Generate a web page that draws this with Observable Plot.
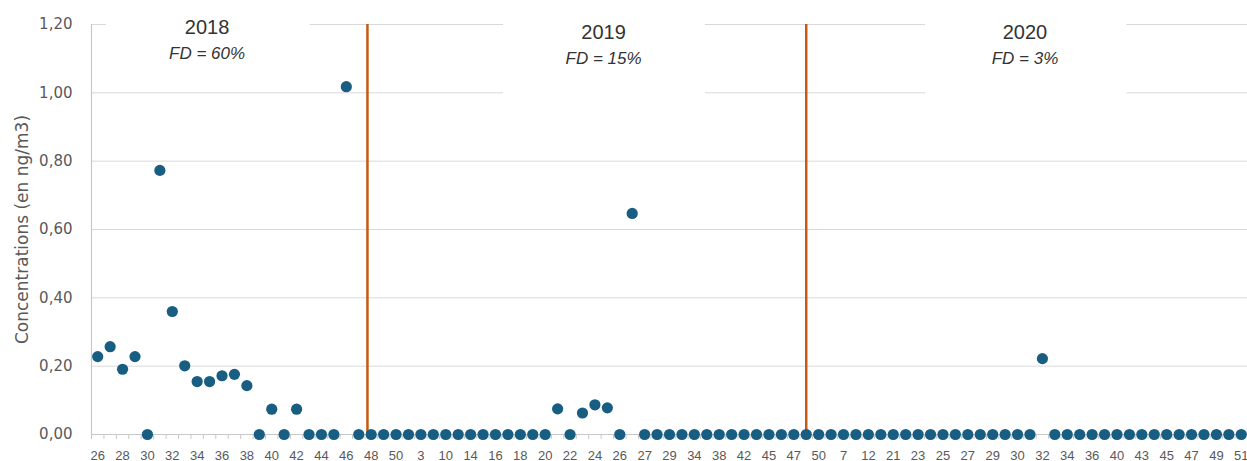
<!DOCTYPE html>
<html><head><meta charset="utf-8">
<script src="https://cdn.jsdelivr.net/npm/d3@7"></script>
<script src="https://cdn.jsdelivr.net/npm/@observablehq/plot@0.6"></script>
<style>html,body{margin:0;padding:0;background:#fff} svg{display:block}</style>
</head><body><div id="chart"></div>
<script>
// Tick labels (week numbers), one for every other sample
const weekLabels = ["26","28","30","32","34","36","38","40","42","44","46","48","50",
  "3","10","14","16","18","20","22","24","26","27","29","34","38","42","45","47",
  "50","7","12","21","23","25","27","29","30","32","34","36","40","43","45","47","49","51"];

// Concentrations (ng/m3) per sample
const values2018 = [0.228,0.257,0.191,0.228,0,0.773,0.36,0.201,0.155,0.155,0.172,0.176,0.143,
  0,0.074,0,0.074,0,0,0,1.018,0,0,0,0];
const values2019 = [0,0,0,0,0,0,0,0,0,0,0,0,0.075,0,0.063,0.087,0.078,0,0.647,
  0,0,0,0,0,0,0,0,0,0,0,0,0,0];
const values2020 = [0,0,0,0,0,0,0,0,0,0,0,0,0,0,0,0,0,0,0.222,
  0,0,0,0,0,0,0,0,0,0,0,0,0,0,0,0];

const yTicks = [0, 0.2, 0.4, 0.6, 0.8, 1.0, 1.2];
const yTitle = "Concentrations (en ng/m3)";
const yearSeparators = [21.7, 57];
const years = ["2018", "2019", "2020"];
const fdTexts = ["FD = 60%", "FD = 15%", "FD = 3%"];
const noteX = [8.8, 40.7, 74.6];
const noteYearY = [1.192, 1.177, 1.177];
const noteFdY = [1.114, 1.0995, 1.0995];
const boxX1 = [0.71, 32.65, 66.6];
const boxX2 = [17.1, 48.9, 82.8];
const boxY1 = [1.05, 0.95, 0.95];
const boxY2 = [1.23, 1.23, 1.23];

const values = [...values2018, ...values2019, ...values2020];
const data = values.map((v, i) => ({i, v}));
const notes = years.map((y, k) => ({year: y, fd: fdTexts[k], x: noteX[k], yy: noteYearY[k], fy: noteFdY[k],
  x1: boxX1[k], x2: boxX2[k], y1: boxY1[k], y2: boxY2[k]}));
const labelIdx = weekLabels.map((d, k) => k * 2);
const boundaryIdx = d3.range(-0.5, values.length, 1);

const fmt = v => v.toFixed(2).replace(".", ",");

const chart = Plot.plot({
  width: 1247,
  height: 461,
  marginLeft: 91,
  marginRight: 0,
  marginTop: 24,
  marginBottom: 27,
  style: {fontFamily: "Liberation Sans, sans-serif", color: "#595959", background: "#fff", overflow: "visible"},
  x: {domain: [-0.5, values.length - 0.5], axis: null},
  y: {domain: [0, 1.2], axis: null},
  marks: [
    Plot.gridY(yTicks, {stroke: "#d9d9d9", strokeOpacity: 1, strokeWidth: 1}),
    Plot.rect(notes, {x1: "x1", x2: "x2", y1: "y1", y2: "y2", fill: "#fff"}),
    Plot.ruleY([0], {stroke: "#c8c8c8", strokeWidth: 1.2}),
    Plot.ruleX([-0.5], {stroke: "#c8c8c8", strokeWidth: 1.2}),
    Plot.axisX(boundaryIdx, {tickSize: 5, tickFormat: () => "", stroke: "#c8c8c8"}),
    Plot.axisX(labelIdx, {tickSize: 0, tickPadding: 16, tickFormat: i => weekLabels[i / 2], fontSize: 13, fontFamily: "Liberation Sans"}),
    Plot.axisY(yTicks, {tickSize: 0, tickPadding: 19, tickFormat: fmt, fontSize: 15, fontFamily: "DejaVu Sans", label: null}),
    Plot.text([yTitle], {frameAnchor: "left", textAnchor: "middle", rotate: -90, dx: -69, fontSize: 17, fontFamily: "DejaVu Sans", fill: "#595959"}),
    Plot.ruleX(yearSeparators, {stroke: "#c55a11", strokeWidth: 2.5}),
    Plot.dot(data, {x: "i", y: "v", r: 5.6, fill: "#175e82", stroke: null}),
    Plot.text(notes, {x: "x", y: "yy", text: "year", fontSize: 20, fontWeight: 400, fontFamily: "Liberation Sans", fill: "#333"}),
    Plot.text(notes, {x: "x", y: "fy", text: "fd", fontSize: 17, fontStyle: "italic", fontFamily: "Liberation Sans", fill: "#333"})
  ]
});
document.getElementById("chart").appendChild(chart);
</script>
</body></html>
